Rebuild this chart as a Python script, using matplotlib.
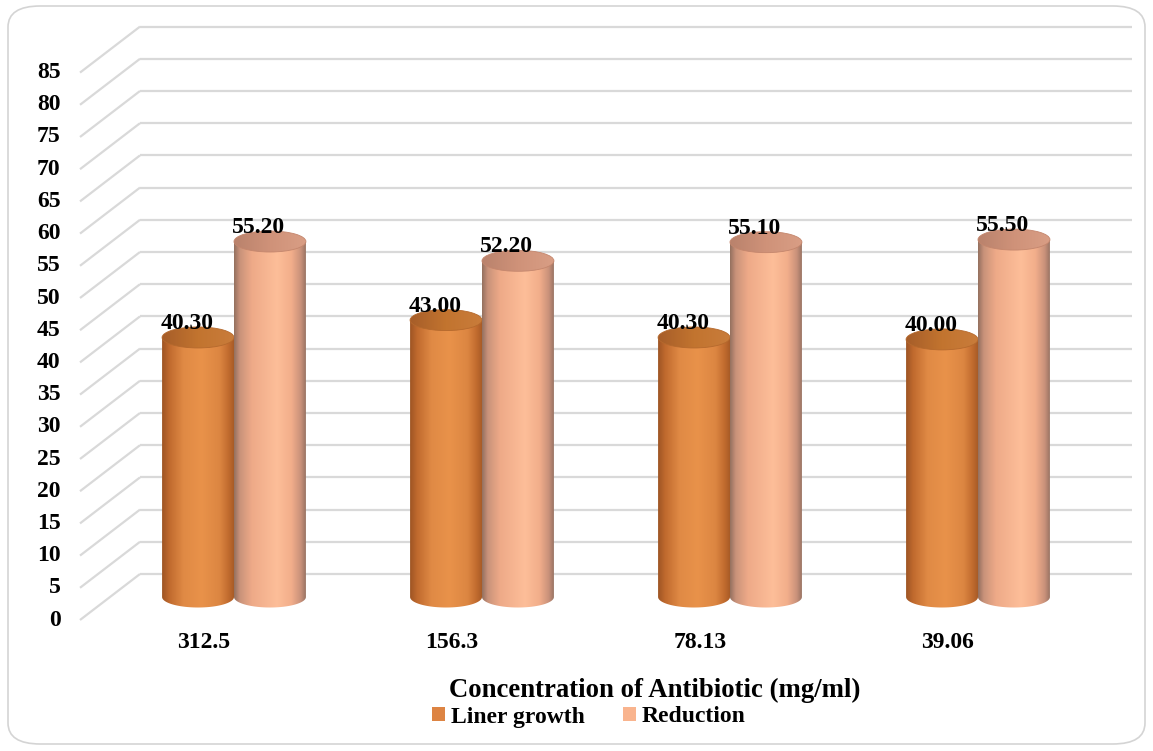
import numpy as np
import matplotlib
matplotlib.use("Agg")
import matplotlib.pyplot as plt
from matplotlib.path import Path
from matplotlib.patches import PathPatch, Ellipse, FancyBboxPatch, Patch
from matplotlib.colors import LinearSegmentedColormap

# ---- data ----
concentrations = ["312.5", "156.3", "78.13", "39.06"]
liner_growth = [40.30, 43.00, 40.30, 40.00]
reduction = [55.20, 52.20, 55.10, 55.50]
y_ticks = list(range(0, 90, 5))
series_names = ["Liner growth", "Reduction"]
x_title = "Concentration of Antibiotic (mg/ml)"

plt.rcParams["font.family"] = ["Liberation Serif", "DejaVu Serif"]
plt.rcParams["font.weight"] = "bold"
FS = 17

W, H, DPI = 1153, 751, 100
fig = plt.figure(figsize=(W / DPI, H / DPI), dpi=DPI)
fig.patch.set_facecolor("white")

# rounded frame around the chart
frame = FancyBboxPatch((8 / W, 7 / H), 1137 / W, 738 / H,
                       boxstyle="round,pad=0,rounding_size=0.028",
                       transform=fig.transFigure, facecolor="none",
                       edgecolor="#d4d4d4", linewidth=1.2, zorder=-1)
fig.patches.append(frame)

# axes = middle depth plane of the 3-D box (with a margin below zero
# so the rounded cylinder bases are not clipped)
px_x = 992 / 4.0          # pixels per category unit
px_y = 547.4 / 85.0       # pixels per value unit
y_lo, y_hi = -5, 90
ax_bottom_px = 597 + (-y_lo) * px_y
ax = fig.add_axes([110 / W, (H - ax_bottom_px) / H, 992 / W,
                   (y_hi - y_lo) * px_y / H])
ax.axis("off")
ax.patch.set_alpha(0)

ddx = 30 / px_x           # half depth in x units
ddy = 23 / px_y           # half depth in y units

grid_c = "#d9d9d9"
for v in y_ticks:
    # back wall line
    ax.plot([-0.5 + ddx, 3.5 + ddx], [v + ddy, v + ddy], color=grid_c,
            lw=1.6, clip_on=False, zorder=1, solid_capstyle="butt")
    # side wall line
    ax.plot([-0.5 - ddx, -0.5 + ddx], [v - ddy, v + ddy], color=grid_c,
            lw=1.6, clip_on=False, zorder=1, solid_capstyle="butt")
    ax.annotate(str(v), xy=(-0.5 - ddx, v - ddy), xytext=(-14, 0),
                textcoords="offset points", ha="right", va="center",
                fontsize=FS, fontweight="bold", annotation_clip=False)

orange_cmap = LinearSegmentedColormap.from_list("orange_body", [
    (0.0, "#9e5524"), (0.1, "#c06a2e"), (0.3, "#e08a45"),
    (0.55, "#e9924a"), (0.8, "#dc8642"), (0.93, "#c06b2e"), (1.0, "#a85b27")])
peach_cmap = LinearSegmentedColormap.from_list("peach_body", [
    (0.0, "#94705f"), (0.08, "#c9927a"), (0.25, "#eeaa88"),
    (0.6, "#fdbe99"), (0.8, "#f2ae8b"), (0.93, "#c9917a"), (1.0, "#9a7464")])
orange_top_cmap = LinearSegmentedColormap.from_list("orange_top", [
    (0.0, "#a65d29"), (0.5, "#c2742f"), (1.0, "#c97c3b")])
peach_top_cmap = LinearSegmentedColormap.from_list("peach_top", [
    (0.0, "#b9826c"), (0.5, "#cf9279"), (1.0, "#d99e85")])

bar_w = 0.29
ry = 10.5 / px_y
grad = np.linspace(0, 1, 256).reshape(1, -1)


def cylinder(xc, value, cmap, top_cmap, top_edge, z):
    x0, x1 = xc - bar_w / 2, xc + bar_w / 2
    t = np.linspace(np.pi, 2 * np.pi, 60)[::-1]
    bottom_x = xc + (bar_w / 2) * np.cos(t)
    bottom_y = ry * np.sin(t)
    verts = [(x0, 0), (x0, value), (x1, value), (x1, 0)]
    verts += list(zip(bottom_x, bottom_y))
    verts.append((x0, 0))
    codes = [Path.MOVETO] + [Path.LINETO] * (len(verts) - 2) + [Path.CLOSEPOLY]
    body = PathPatch(Path(verts, codes), facecolor="none", edgecolor="none",
                     transform=ax.transData)
    ax.add_patch(body)
    im = ax.imshow(grad, cmap=cmap, aspect="auto",
                   extent=(x0, x1, -ry, value), zorder=z,
                   interpolation="bilinear")
    im.set_clip_path(body)
    top = Ellipse((xc, value), bar_w, 2 * ry, facecolor="none",
                  edgecolor=top_edge, lw=0.6, zorder=z + 0.2)
    ax.add_patch(top)
    im_top = ax.imshow(grad, cmap=top_cmap, aspect="auto",
                       extent=(x0, x1, value - ry, value + ry), zorder=z + 0.1,
                       interpolation="bilinear")
    im_top.set_clip_path(top)


for i, (a, b) in enumerate(zip(liner_growth, reduction)):
    xo, xp = i - bar_w / 2, i + bar_w / 2
    cylinder(xo, a, orange_cmap, orange_top_cmap, "#b5692d", 3)
    cylinder(xp, b, peach_cmap, peach_top_cmap, "#c4866d", 4)
    for xc, v in ((xo, a), (xp, b)):
        ax.annotate(f"{v:.2f}", xy=(xc, v), xytext=(-8, 10),
                    textcoords="offset points", ha="center", va="center",
                    fontsize=FS, fontweight="bold", zorder=6,
                    annotation_clip=False)
    ax.annotate(concentrations[i], xy=(i, 0), xytext=(-21.6, -32.5),
                textcoords="offset points", ha="center", va="center",
                fontsize=FS, fontweight="bold", annotation_clip=False)

ax.set_xlim(-0.5, 3.5)
ax.set_ylim(y_lo, y_hi)

fig.text(655 / W, 1 - 690 / H, x_title, ha="center", va="center",
         fontsize=19.3, fontweight="bold")

handles = [Patch(facecolor="#dd8443", edgecolor="none"),
           Patch(facecolor="#f9b48e", edgecolor="none")]
fig.legend(handles, series_names, loc="center",
           bbox_to_anchor=(589 / W, 1 - 717 / H), ncol=2, frameon=False,
           fontsize=FS, handlelength=0.55, handleheight=0.55,
           handletextpad=0.25, columnspacing=1.6, borderaxespad=0)

fig.savefig("out.png", dpi=DPI)
